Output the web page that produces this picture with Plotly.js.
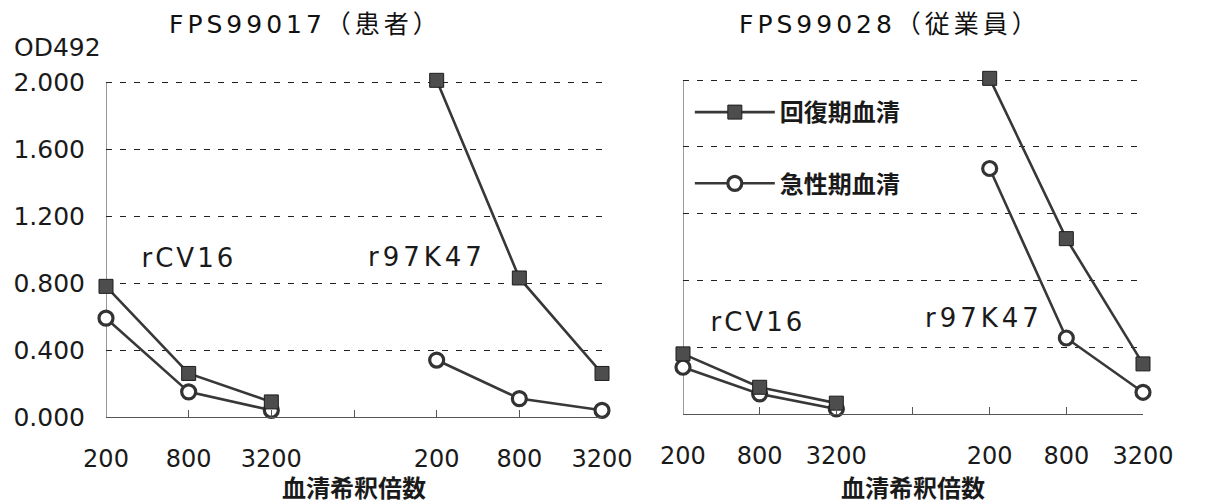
<!DOCTYPE html>
<html>
<head>
<meta charset="utf-8">
<script src="https://cdn.plot.ly/plotly-3.0.1.min.js"></script>
<style>
html,body{margin:0;padding:0;background:#fff;}
#chart{width:1223px;height:504px;}
.annotation[data-index="0"] text, .annotation[data-index="1"] text{letter-spacing:4px;}
.annotation[data-index="3"] text, .annotation[data-index="5"] text{letter-spacing:3px;}
.annotation[data-index="4"] text, .annotation[data-index="6"] text{letter-spacing:4px;}
</style>
</head>
<body>
<div id="chart"></div>
<script>
// ---- data ----
const dilutions = ['200', '800', '3200'];
const antigens = ['rCV16', 'r97K47'];
const panelTitles = ['FPS99017（患者）', 'FPS99028（従業員）'];
const seriesNames = ['回復期血清', '急性期血清'];
const xTitle = '血清希釈倍数';
const yLabel = 'OD492';
const yTicks = [0, 0.4, 0.8, 1.2, 1.6, 2.0];

// FPS99017 (patient)
const p1ConvRCV16 = [0.78, 0.26, 0.09];
const p1ConvR97K47 = [2.01, 0.83, 0.26];
const p1AcuteRCV16 = [0.59, 0.15, 0.04];
const p1AcuteR97K47 = [0.34, 0.11, 0.04];
// FPS99028 (employee)
const p2ConvRCV16 = [0.36, 0.16, 0.065];
const p2ConvR97K47 = [2.01, 1.05, 0.30];
const p2AcuteRCV16 = [0.28, 0.12, 0.03];
const p2AcuteR97K47 = [1.47, 0.455, 0.13];

// ---- build ----
const n = dilutions.length;
const xPos = [];
for (let i = 0; i < 2 * n + 1; i++) xPos.push(i);
const tickText = dilutions.concat([''], dilutions);
const joinY = (a, b) => a.concat([null], b);
const yTop = yTicks[yTicks.length - 1];

const latin = 'DejaVu Sans, Noto Sans CJK JP, sans-serif';
const cjk = 'Noto Sans CJK JP, DejaVu Sans, sans-serif';
const ink = '#1a1a1a';
const lineCol = '#383838';

const convStyle = {
  mode: 'lines+markers',
  line: {color: lineCol, width: 2.6},
  marker: {symbol: 'square', size: 14, color: '#4d4d4d', line: {color: '#1e1e1e', width: 1}}
};
const acuteStyle = {
  mode: 'lines+markers',
  line: {color: lineCol, width: 2.6},
  marker: {symbol: 'circle', size: 14, color: '#ffffff', line: {color: '#333', width: 3.2}}
};

const traces = [
  Object.assign({name: seriesNames[1], x: xPos, y: joinY(p1AcuteRCV16, p1AcuteR97K47), xaxis: 'x', yaxis: 'y', showlegend: false}, acuteStyle),
  Object.assign({name: seriesNames[0], x: xPos, y: joinY(p1ConvRCV16, p1ConvR97K47), xaxis: 'x', yaxis: 'y', showlegend: false}, convStyle),
  Object.assign({name: seriesNames[1], x: xPos, y: joinY(p2AcuteRCV16, p2AcuteR97K47), xaxis: 'x2', yaxis: 'y2', legendgroup: 'b', legendrank: 2}, acuteStyle),
  Object.assign({name: seriesNames[0], x: xPos, y: joinY(p2ConvRCV16, p2ConvR97K47), xaxis: 'x2', yaxis: 'y2', legendgroup: 'a', legendrank: 1}, convStyle)
];
traces.forEach(t => { t.cliponaxis = false; t.connectgaps = false; });

const xBase = {
  range: [0, 2 * n],
  tickmode: 'array',
  tickvals: xPos,
  ticktext: tickText,
  ticks: 'inside',
  ticklen: 7,
  tickcolor: '#555',
  tickwidth: 1,
  showline: true,
  linecolor: '#555',
  linewidth: 1.2,
  showgrid: false,
  zeroline: false,
  ticklabelstandoff: 20,
  tickfont: {family: latin, size: 24, color: ink},
  title: {text: xTitle, font: {family: cjk, size: 24, color: ink, weight: 'bold'}, standoff: 6}
};
const yBase = {
  range: [0, 2.1],
  tickmode: 'array',
  tickvals: yTicks,
  showline: false,
  showgrid: true,
  gridcolor: '#222',
  gridwidth: 1,
  griddash: '6px,8px',
  zeroline: false,
  ticks: ''
};

const layout = {
  width: 1223,
  height: 504,
  margin: {l: 106, r: 80, t: 63, b: 87},
  paper_bgcolor: '#fff',
  plot_bgcolor: '#fff',
  xaxis: Object.assign({}, xBase, {domain: [0, 0.4783], anchor: 'y'}),
  xaxis2: Object.assign({}, xBase, {domain: [0.5564, 1], anchor: 'y2'}),
  yaxis: Object.assign({}, yBase, {domain: [0, 0.99364], anchor: 'x', tickformat: '.3f',
    ticklabelstandoff: 20, tickfont: {family: latin, size: 25, color: ink}}),
  yaxis2: Object.assign({}, yBase, {domain: [0.008475, 0.99915], anchor: 'x2', showticklabels: false}),
  showlegend: true,
  legend: {
    x: 0.563, xanchor: 'left', y: 0.9237, yanchor: 'top',
    bgcolor: 'rgba(0,0,0,0)',
    font: {family: cjk, size: 24, color: ink, weight: 'bold'},
    traceorder: 'grouped',
    tracegroupgap: 37,
    itemwidth: 80
  },
  shapes: [
    {type: 'line', xref: 'x', yref: 'y', x0: 0, x1: 0, y0: 0, y1: yTop, layer: 'below', line: {color: '#555', width: 1.2}},
    {type: 'line', xref: 'x2', yref: 'y2', x0: 0, x1: 0, y0: 0, y1: yTop, layer: 'below', line: {color: '#555', width: 1.2}}
  ],
  annotations: [
    {text: panelTitles[0], xref: 'paper', yref: 'paper', x: 0.1919, y: 1.11, xanchor: 'center', yanchor: 'middle',
      showarrow: false, font: {family: latin, size: 25, color: '#111'}},
    {text: panelTitles[1], xref: 'paper', yref: 'paper', x: 0.7563, y: 1.11, xanchor: 'center', yanchor: 'middle',
      showarrow: false, font: {family: latin, size: 25, color: '#111'}},
    {text: yLabel, xref: 'paper', yref: 'paper', x: -0.0906, y: 1.045, xanchor: 'left', yanchor: 'middle',
      showarrow: false, font: {family: latin, size: 25, color: ink}},
    {text: antigens[0], xref: 'x', yref: 'y', x: 1, y: 0.95, showarrow: false,
      font: {family: latin, size: 26, color: ink}},
    {text: antigens[1], xref: 'x', yref: 'y', x: 3.88, y: 0.955, showarrow: false,
      font: {family: latin, size: 26, color: ink}},
    {text: antigens[0], xref: 'x2', yref: 'y2', x: 0.98, y: 0.55, showarrow: false,
      font: {family: latin, size: 26, color: ink}},
    {text: antigens[1], xref: 'x2', yref: 'y2', x: 3.92, y: 0.575, showarrow: false,
      font: {family: latin, size: 26, color: ink}}
  ]
};

Plotly.newPlot('chart', traces, layout, {displayModeBar: false, staticPlot: true});
</script>
</body>
</html>
